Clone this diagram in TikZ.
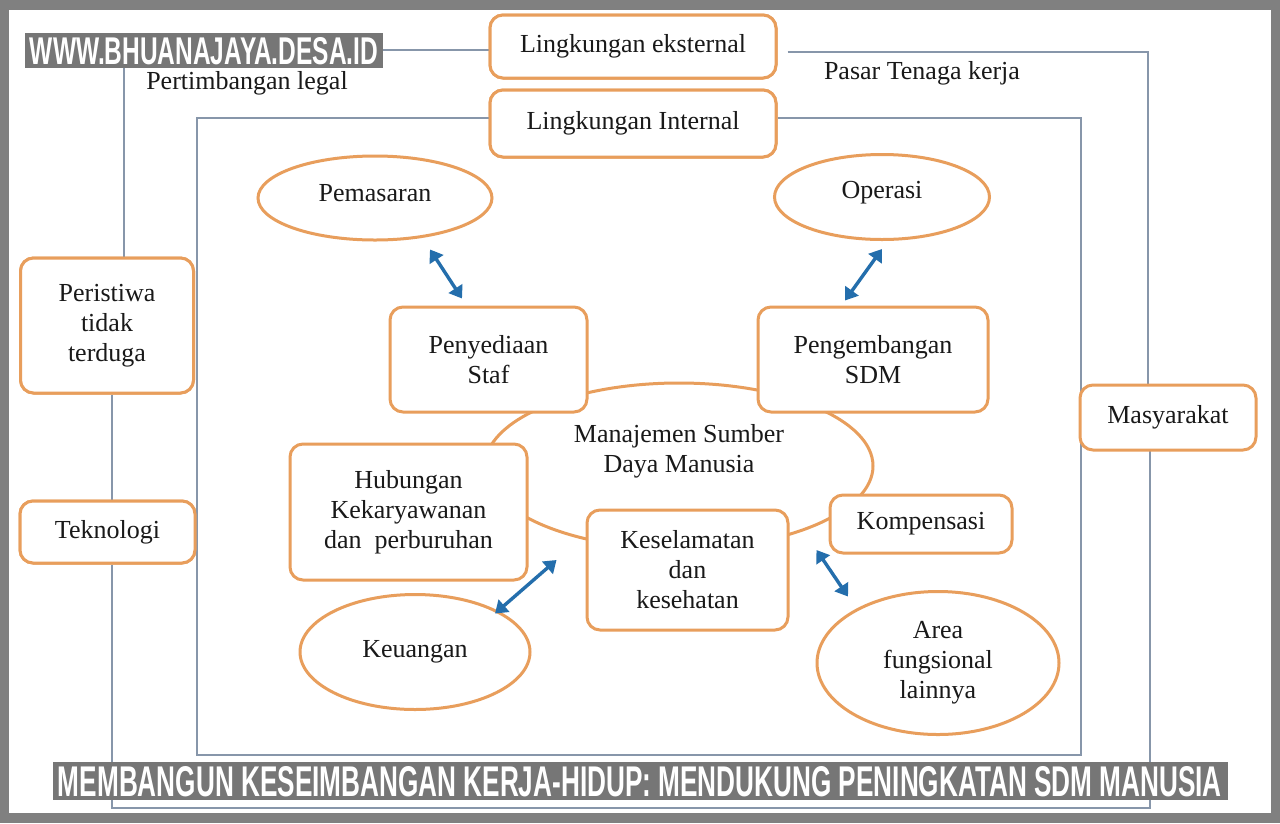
\documentclass[tikz,border=0pt]{standalone}
\usepackage{fontspec}
\usepackage{graphicx}
\setmainfont{Liberation Serif}
\newfontfamily\capsans{Liberation Sans}
\usetikzlibrary{shapes.geometric,arrows.meta}
\definecolor{framegray}{RGB}{128,128,128}
\definecolor{bargray}{RGB}{118,118,118}
\definecolor{boxorange}{RGB}{232,158,92}
\definecolor{linegray}{RGB}{135,150,170}
\definecolor{arrowblue}{RGB}{36,110,172}
\definecolor{inktext}{RGB}{25,25,25}
\newcommand\bodyfont{\fontsize{26}{30}\selectfont}
\begin{document}
\begin{tikzpicture}[x=1pt,y=-1pt,
  rbox/.style={draw=boxorange, line width=3pt, rounded corners=13pt, fill=white,
    align=center, font=\bodyfont, text=inktext, inner sep=0pt},
  ell/.style={draw=boxorange, line width=3pt, ellipse, fill=white,
    align=center, font=\bodyfont, text=inktext, inner sep=0pt},
  frameline/.style={draw=linegray, line width=1.8pt},
  dbl/.style={draw=arrowblue, line width=3.4pt,
    {Triangle[length=12pt,width=16pt]}-{Triangle[length=12pt,width=16pt]}},
  plain/.style={font=\bodyfont, text=inktext, inner sep=0pt},
  bar/.style={fill=bargray, inner sep=0pt, text=white}
]
\useasboundingbox (0,0) rectangle (1280,823);
\fill[framegray] (0,0) rectangle (1280,823);
\fill[white] (9,10) rectangle (1271,813);

% top boxes (named first so the frame lines can refer to them)
\node[rbox, minimum width=286pt, minimum height=63pt] (ext) at (633,46.5) {Lingkungan eksternal};
\node[rbox, minimum width=286pt, minimum height=67pt] (int) at (633,123.5) {Lingkungan Internal};
\node[rbox, minimum width=173pt, minimum height=135pt] (per) at (107,325.5) {Peristiwa\\tidak\\terduga};
\node[rbox, minimum width=175pt, minimum height=62pt] (tek) at (107.5,532) {Teknologi};

% frame lines
\coordinate (otl) at (124,50);
\coordinate (otr) at (1148,52);
\coordinate (olx) at (112,808);
\coordinate (obr) at (1150,808);
\coordinate (itl) at (197,118);
\coordinate (ibr) at (1081,755);

\node[plain] (legal) at (247,83) {Pertimbangan legal};
\node[plain] (pasar) at (922,73) {Pasar Tenaga kerja};

\draw[frameline] (ext.west |- otl) -- (otl) -- (otl |- per.north);
\draw[frameline] (per.south -| olx) -- (tek.north -| olx);
\draw[frameline] (tek.south -| olx) -- (olx) -- (obr) -- (obr |- 0,450);
\draw[frameline] ([xshift=10pt]ext.east |- otr) -- (otr) -- (otr |- 0,385);
\draw[frameline] (int.west |- itl) -- (itl) -- (itl |- ibr) -- (ibr) -- (ibr |- itl) -- (int.east |- itl);

% boxes drawn again above the lines
\node[rbox, minimum width=286pt, minimum height=63pt] at (ext) {Lingkungan eksternal};
\node[rbox, minimum width=286pt, minimum height=67pt] at (int) {Lingkungan Internal};
\node[rbox, minimum width=173pt, minimum height=135pt] at (per) {Peristiwa\\tidak\\terduga};
\node[rbox, minimum width=175pt, minimum height=62pt] at (tek) {Teknologi};
\node[rbox, minimum width=176pt, minimum height=65pt] (mas) at (1168,417.5) {Masyarakat};

% central ellipse
\node[ell, minimum width=388pt, minimum height=166pt] (msdm) at (679,466) {};
\node[plain, align=center] (msdmtext) at (679,451) {Manajemen Sumber\\Daya Manusia};

% outer ellipses
\node[ell, minimum width=234pt, minimum height=84pt] (pem) at (375,198) {};
\node[plain] (pemtext) at (375,193) {Pemasaran};
\node[ell, minimum width=215pt, minimum height=85pt] (ops) at (882,197) {};
\node[plain] (opstext) at (882,193) {Operasi};
\node[ell, minimum width=230pt, minimum height=115pt] (keu) at (415,652) {Keuangan};
\node[ell, minimum width=242pt, minimum height=143pt] (area) at (938,663) {Area\\fungsional\\lainnya};

% function boxes
\node[rbox, minimum width=197pt, minimum height=105pt] (staf) at (488.5,359.5) {Penyediaan\\Staf};
\node[rbox, minimum width=230pt, minimum height=105pt] (sdm) at (873,359.5) {Pengembangan\\SDM};
\node[rbox, minimum width=237pt, minimum height=136pt] (hub) at (408.5,512) {Hubungan\\Kekaryawanan\\dan\ \ perburuhan};
\node[rbox, minimum width=201pt, minimum height=120pt] (kes) at (687.5,570) {Keselamatan\\dan\\kesehatan};
\node[rbox, minimum width=182pt, minimum height=58pt] (komp) at (921,524) {Kompensasi};

% arrows
\path (pem.south) ++(55,8) coordinate (a1s);
\path (staf.north) ++(-26.5,-7) coordinate (a1e);
\path (ops.south) ++(0,8) coordinate (a2s);
\path (sdm.north) ++(-28,-5) coordinate (a2e);
\path (keu.north) ++(80,20.5) coordinate (a3s);
\path (kes.west) ++(-29,-10) coordinate (a3e);
\path (kes.east) ++(27,-20) coordinate (a4s);
\path (area.north) ++(-90,6.5) coordinate (a4e);
\draw[dbl] (a1s) -- (a1e);
\draw[dbl] (a2s) -- (a2e);
\draw[dbl] (a3s) -- (a3e);
\draw[dbl] (a4s) -- (a4e);

% watermark and caption bars
\fill[bargray] (25,33) rectangle (383,68);
\node[inner sep=0pt, text=white] (wm) at (204,51.5)
  {\resizebox{348pt}{27pt}{\capsans\bfseries WWW.BHUANAJAYA.DESA.ID}};
\fill[bargray] (53,762) rectangle (1228,800);
\node[inner sep=0pt, text=white] (cap) at (640,782)
  {\resizebox{1164pt}{30pt}{\capsans\bfseries MEMBANGUN KESEIMBANGAN KERJA-HIDUP: MENDUKUNG PENINGKATAN SDM MANUSIA}};
\end{tikzpicture}
\end{document}
